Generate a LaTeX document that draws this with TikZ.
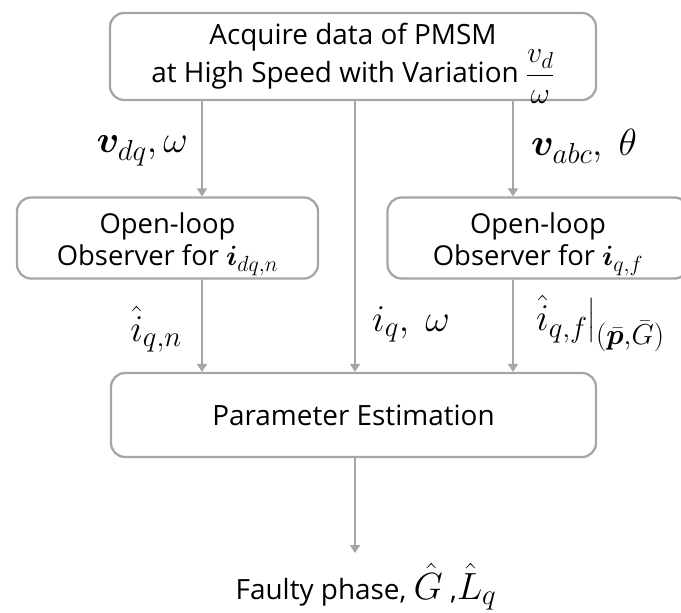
\RequirePackage{fix-cm}
\documentclass[tikz,border=0pt]{standalone}
\usepackage{amsmath}
\usepackage{bm}
\usepackage{fontspec}
\setmainfont{Open Sans}
\usetikzlibrary{arrows.meta}
\DeclareMathSizes{38}{38}{29}{23}
\DeclareMathSizes{28}{28}{22}{17}
\DeclareMathSizes{30}{30}{23}{18}
\definecolor{linegray}{RGB}{166,166,166}
\newcommand{\lblmath}{\fontsize{38}{40}\selectfont}
\newcommand{\obsmath}{\fontsize{28}{32}\selectfont}
\newcommand{\fracmath}{\fontsize{30}{38}\selectfont}
\tikzset{
  flowbox/.style={draw=linegray, line width=2.3bp, rounded corners=14bp, align=center, inner sep=0pt},
  flowarr/.style={draw=linegray, line width=2.3bp, -{Triangle[length=8bp,width=10bp]}},
  bigtxt/.style={font=\fontsize{28}{38}\selectfont, align=center, inner sep=0pt},
  midtxt/.style={font=\fontsize{27.5}{32}\selectfont, align=center, inner sep=0pt},
  mathlbl/.style={font=\lblmath, inner sep=0pt}
}
\begin{document}
\begin{tikzpicture}[x=1bp,y=-1bp]
\useasboundingbox (0,0) rectangle (681,613);
% column x positions
\coordinate (xa) at (202,0);
\coordinate (xb) at (355,0);
\coordinate (xc) at (513,0);
% boxes
\node[flowbox, bigtxt, minimum width=486bp, minimum height=87bp] (top) at (353,56.5)
  {Acquire data of PMSM\\at High Speed with Variation {\fracmath\smash{$\dfrac{v_d}{\omega}$}}};
\node[flowbox, midtxt, minimum width=301bp, minimum height=81bp] (obsL) at (167.5,238)
  {\rule{0pt}{33bp}Open-loop\\Observer for {\obsmath$\bm{i}_{dq,n}$}};
\node[flowbox, midtxt, minimum width=301bp, minimum height=81bp] (obsR) at (538,238)
  {\rule{0pt}{33bp}Open-loop\\Observer for {\obsmath$\bm{i}_{q,f}$}};
\node[flowbox, bigtxt, minimum width=485bp, minimum height=84bp] (param) at (353.5,415) {Parameter Estimation};
% labels
\node[mathlbl, anchor=base east] (lvdq) at (188,153) {$\bm{v}_{dq},\omega$};
\node[mathlbl, anchor=base west] (lvabc) at (531,156) {$\bm{v}_{abc},\ \theta$};
\node[mathlbl, anchor=base east] (lin) at (182,341) {$\hat{i}_{q,n}$};
\node[mathlbl, anchor=base west] (liw) at (372,331) {$i_q,\ \omega$};
\node[mathlbl, anchor=base west] (lif) at (536,330) {$\hat{i}_{q,f}\big|_{(\bar{\bm{p}},\bar{G})}$};
\node[bigtxt, anchor=base] (out) at (366,599) {Faulty phase, {\lblmath$\hat{G}$} ,{\lblmath$\hat{L}_q$}};
\coordinate (oend) at (355,553);
% connectors
\draw[flowarr] (top.south -| xa) -- (obsL.north -| xa);
\draw[flowarr] (top.south -| xc) -- (obsR.north -| xc);
\draw[flowarr] (top.south -| xb) -- (param.north -| xb);
\draw[flowarr] (obsL.south -| xa) -- (param.north -| xa);
\draw[flowarr] (obsR.south -| xc) -- (param.north -| xc);
\draw[flowarr] (param.south -| oend) -- (oend);
\end{tikzpicture}
\end{document}
